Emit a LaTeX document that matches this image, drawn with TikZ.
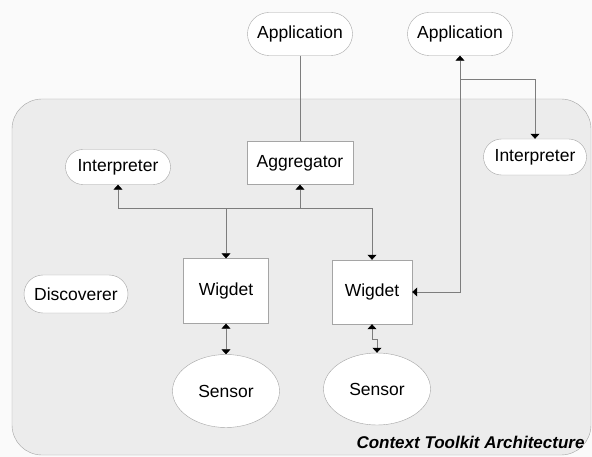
\documentclass[tikz,border=0pt]{standalone}
\usepackage{fontspec}
\setmainfont{Liberation Sans}
\usetikzlibrary{arrows.meta,shapes.geometric,shapes.misc}
\definecolor{panel}{RGB}{236,236,236}
\definecolor{outside}{RGB}{250,250,250}
\definecolor{edge}{RGB}{165,165,165}
\definecolor{wire}{RGB}{125,125,125}
\tikzset{
  capsule/.style={rounded rectangle, draw=edge, fill=white, inner sep=1pt},
  unit/.style={rectangle, draw=edge, fill=white, inner sep=1pt},
  sensorshape/.style={ellipse, draw=edge, fill=white, inner sep=1pt,
    minimum width=107pt, minimum height=73pt},
  link/.style={draw=wire, line width=0.6pt},
  tip/.style={-{Triangle[width=9pt,length=5pt,color=black]}},
  twotip/.style={{Triangle[width=9pt,length=5pt,color=black]}-{Triangle[width=9pt,length=5pt,color=black]}}
}
\begin{document}
\begin{tikzpicture}[x=1pt,y=-1pt,font=\fontsize{17.5}{20}\selectfont]
  \useasboundingbox (0,0) rectangle (592,457);
  \fill[outside] (0,0) rectangle (592,457);
  % toolkit panel
  \draw[draw=edge, fill=panel, rounded corners=30pt] (12,99) rectangle (591,455);

  \node[capsule, minimum width=107pt, minimum height=43pt] (app1) at (300,34) {Application};
  \node[capsule, minimum width=107pt, minimum height=43pt] (app2) at (460,34) {Application};
  \node[unit, minimum width=106pt, minimum height=43pt] (agg) at (300,163) {Aggregator};
  \node[capsule, minimum width=107pt, minimum height=35pt] (interpL) at (118,167) {Interpreter};
  \node[capsule, minimum width=105pt, minimum height=36pt] (interpR) at (535,157) {Interpreter};
  \node[capsule, minimum width=106pt, minimum height=38pt] (disc) at (76,294) {Discoverer};
  \node[unit, minimum width=85pt, minimum height=65pt] (w1) at (226,291) {Wigdet};
  \node[unit, minimum width=80pt, minimum height=64pt] (w2) at (372,292) {Wigdet};
  \node[sensorshape] (s1) at (226,391) {Sensor};
  \node[sensorshape, minimum height=72pt] (s2) at (377,389) {Sensor};

  \coordinate (bus) at (226,208);
  \coordinate (fork) at (460,79);

  % connectors
  \draw[link] (app1.south) -- (agg.north);
  \draw[link,twotip] (interpL.south) |- (bus) -- (w1.north);
  \draw[link,tip] (bus) -| (w2.north);
  \draw[link,tip] (agg.south |- bus) -- (agg.south);
  \draw[link,twotip] (w2.east) -| (app2.south);
  \draw[link,tip] (fork) -| (interpR.north);
  \draw[link,twotip] (w1.south) -- (s1.north);
  \draw[link,twotip] (w2.south) -- ++(0,15) -| (s2.north);

  \node[anchor=base east, font=\fontsize{17}{20}\selectfont\bfseries\itshape] (title) at (588,448) {Context Toolkit Architecture};
\end{tikzpicture}
\end{document}
